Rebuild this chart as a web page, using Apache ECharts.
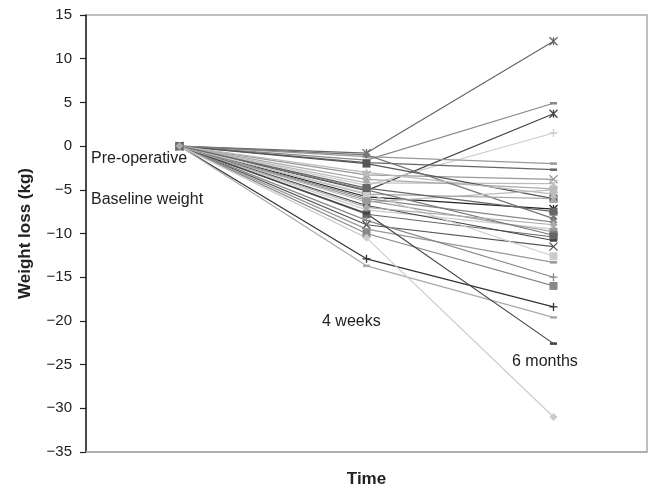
<!DOCTYPE html>
<html>
<head>
<meta charset="utf-8">
<script src="https://cdn.jsdelivr.net/npm/echarts@6/dist/echarts.min.js"></script>
<style>
  html, body { margin: 0; padding: 0; background: #fff; }
  #chart { width: 652px; height: 486px; }
</style>
</head>
<body>
<div id="chart"></div>
<script>
// time points
const categories = ['Pre-operative', '4 weeks', '6 months']

// weight change (kg) per patient at 4 weeks and 6 months; baseline is 0
const baseline = 0
const week4 = [-0.8, -1.6, -5.1, -4.5, -1.2, -1.9, -3.3, -4.2, -3.8, -2.0, -5.8, -1.0, -6.4, -5.5, -6.0, -7.3,
  -6.2, -5.0, -7.8, -6.8, -9.0, -5.4, -9.5, -8.5, -10.0, -12.9, -13.7, -7.7, -10.5, -3.0, -4.8, -7.0]
const month6 = [12.0, 4.9, 3.7, 1.5, -2.0, -2.7, -3.8, -4.3, -4.9, -6.0, -7.2, -8.3, -5.0, -6.0, -8.7, -9.5,
  -9.8, -10.2, -10.4, -10.8, -11.5, -12.6, -13.3, -15.0, -16.0, -18.4, -19.6, -22.6, -31.0, -5.5, -7.5, -9.0]

// marker shapes
const X_PATH = 'path://M0,0L10,10M10,0L0,10'
const PLUS_PATH = 'path://M5,0L5,10M0,5L10,5'
const STAR_PATH = 'path://M0,0L10,10M10,0L0,10M5,0L5,10'

const looks = [
  ['star', '#666'], ['dash', '#888'], ['star', '#444'], ['plus', '#ccc'],
  ['dash', '#999'], ['dash', '#666'], ['x', '#999'], ['x', '#bbb'],
  ['triangle', '#aaa'], ['rect', '#555'], ['star', '#222'], ['diamond', '#777'],
  ['rect', '#bbb'], ['triangle', '#aaa'], ['diamond', '#888'], ['diamond', '#ccc'],
  ['rect', '#999'], ['rect', '#777'], ['rect', '#666'], ['dash', '#444'],
  ['x', '#555'], ['rect', '#ccc'], ['dash', '#999'], ['plus', '#888'],
  ['rect', '#888'], ['plus', '#333'], ['dash', '#aaa'], ['dash', '#444'],
  ['diamond', '#ccc'], ['triangle', '#bbb'], ['rect', '#666'], ['diamond', '#aaa']
]

function markerFor(kind, color) {
  if (kind === 'x' || kind === 'plus' || kind === 'star') {
    const path = kind === 'x' ? X_PATH : kind === 'plus' ? PLUS_PATH : STAR_PATH
    return {
      symbol: path,
      symbolSize: 8,
      itemStyle: { color: 'transparent', borderColor: color, borderWidth: 1.3 }
    }
  }
  if (kind === 'dash') {
    return { symbol: 'rect', symbolSize: [7, 2.5], itemStyle: { color: color } }
  }
  return { symbol: kind, symbolSize: 8, itemStyle: { color: color } }
}

const series = week4.map((w, i) => {
  const [kind, color] = looks[i]
  return {
    type: 'line',
    data: [baseline, w, month6[i]],
    lineStyle: { color: color, width: 1.2 },
    ...markerFor(kind, color),
    showAllSymbol: true,
    animation: false,
    z: 2
  }
})

const FONT = '"Liberation Sans", Arial, sans-serif'

const chart = echarts.init(document.getElementById('chart'))
chart.setOption({
  animation: false,
  textStyle: { fontFamily: FONT },
  grid: {
    left: 86,
    right: 5,
    top: 15,
    bottom: 34,
    containLabel: false,
    outerBoundsMode: 'none',
    show: true,
    borderColor: '#aaa',
    borderWidth: 1.5
  },
  xAxis: {
    type: 'category',
    data: categories,
    boundaryGap: true,
    name: 'Time',
    nameLocation: 'middle',
    nameGap: 19,
    nameTextStyle: { fontSize: 17, fontWeight: 'bold', color: '#222', fontFamily: FONT },
    axisLine: { onZero: false, lineStyle: { color: '#aaa', width: 1.5 } },
    axisTick: { show: false },
    axisLabel: { show: false },
    splitLine: { show: false }
  },
  yAxis: {
    type: 'value',
    min: -35,
    max: 15,
    interval: 5,
    name: 'Weight loss (kg)',
    nameLocation: 'middle',
    nameGap: 52,
    nameTextStyle: { fontSize: 17, fontWeight: 'bold', color: '#222', fontFamily: FONT },
    axisLine: { show: true, onZero: false, lineStyle: { color: '#222', width: 1.5 } },
    axisTick: { show: true, length: 6, lineStyle: { color: '#222', width: 1.2 } },
    axisLabel: {
      margin: 14,
      fontSize: 15,
      color: '#222',
      fontFamily: FONT,
      formatter: v => (v < 0 ? '\u2212' + Math.abs(v) : String(v))
    },
    splitLine: { show: false }
  },
  graphic: [
    { type: 'text', left: 91, top: 151, style: { text: 'Pre-operative', fontSize: 16, fill: '#222', fontFamily: FONT } },
    { type: 'text', left: 91, top: 192, style: { text: 'Baseline weight', fontSize: 16, fill: '#222', fontFamily: FONT } },
    { type: 'text', left: 322, top: 314, style: { text: '4 weeks', fontSize: 16, fill: '#222', fontFamily: FONT } },
    { type: 'text', left: 512, top: 354, style: { text: '6 months', fontSize: 16, fill: '#222', fontFamily: FONT } }
  ],
  series: series
})
</script>
</body>
</html>
